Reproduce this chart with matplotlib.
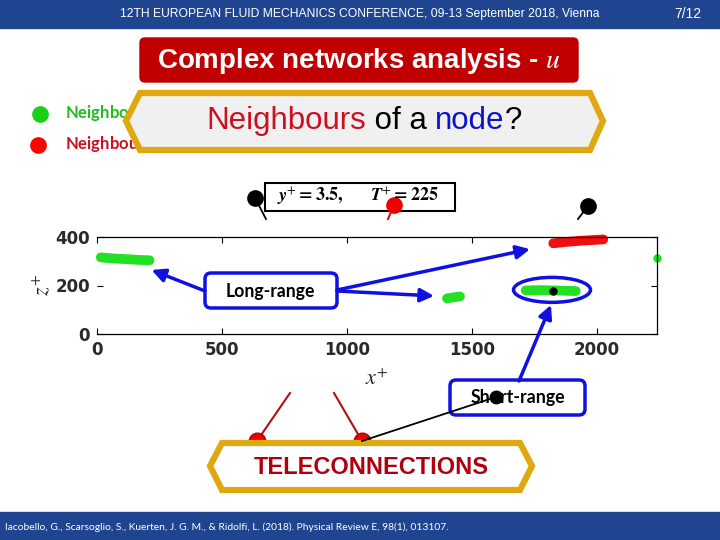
import matplotlib
matplotlib.use("Agg")
import matplotlib.pyplot as plt
from matplotlib.patches import Rectangle, FancyBboxPatch, Polygon, Ellipse, ConnectionPatch
from matplotlib.offsetbox import TextArea, HPacker, AnnotationBbox

plt.rcParams['mathtext.fontset'] = 'stix'

# ---- data -----------------------------------------------------------------
xticks = [0, 500, 1000, 1500, 2000]
yticks = [0, 200, 400]

# positively correlated neighbours (green clusters)
green_x = [[15, 60, 110, 160, 210],
           [1400, 1425, 1452],
           [1715, 1780, 1850, 1915],
           [2240]]
green_y = [[316, 312, 309, 306, 304],
           [147, 151, 155],
           [180, 181, 179, 177],
           [312]]

# negatively correlated neighbours (red cluster)
red_x = [1825, 1880, 1940, 2025]
red_y = [374, 380, 385, 390]

# the node itself
node_x = [1825]
node_y = [178]

# arrow targets (data coords)
long_targets = [(218, 264), (1732, 350), (1348, 157)]
short_target = (1816, 120)

BLUE = '#1010e0'
GOLD = '#e0a810'
BAND = '#1f4591'

fig = plt.figure(figsize=(7.2, 5.4), dpi=100)

# ---- the chart -------------------------------------------------------------
ax = fig.add_axes([97 / 720, 1 - 334 / 540, 560 / 720, 97 / 540], zorder=2)
for xs, ys in zip(green_x, green_y):
    if len(xs) > 1:
        ax.plot(xs, ys, color='#22e022', lw=7, solid_capstyle='round', clip_on=False)
    else:
        ax.plot(xs, ys, 'o', color='#22e022', ms=5, clip_on=False)
ax.plot(red_x, red_y, color='#ee1010', lw=7, solid_capstyle='round', clip_on=False)
ax.plot(node_x, node_y, 'o', color='black', ms=5, zorder=4)
ax.add_patch(Ellipse((1820, 182), 308, 103, fill=False, edgecolor=BLUE, lw=2.5, zorder=5))

ax.set_xlim(0, 2240)
ax.set_ylim(0, 400)
ax.set_xticks(xticks, labels=[str(v) for v in xticks], fontweight='bold')
ax.set_yticks(yticks, labels=[str(v) for v in yticks], fontweight='bold')
ax.tick_params(direction='in', top=True, right=True, length=4, width=0.8,
               labelsize=12, labelcolor='#2a2a2a', pad=5)
ax.spines['left'].set_visible(False)
for s in ['top', 'bottom', 'right']:
    ax.spines[s].set_linewidth(0.9)
ax.set_xlabel(r'$x^{+}$', fontsize=16, color='#262626', labelpad=7)
ax.set_ylabel(r'$z^{+}$', fontsize=16, color='#262626', labelpad=2)

# ---- slide decorations (pixel coordinates) ---------------------------------
ov = fig.add_axes([0, 0, 1, 1], zorder=5)
ov.set_xlim(0, 720)
ov.set_ylim(540, 0)
ov.axis('off')
ov.patch.set_alpha(0)

ov.add_patch(Rectangle((0, 0), 720, 28, color=BAND))
ov.add_patch(Rectangle((0, 512), 720, 28, color=BAND))
ov.text(360, 14, '12TH EUROPEAN FLUID MECHANICS CONFERENCE, 09-13 September 2018, Vienna',
        color='white', fontsize=8.7, ha='center', va='center', family='Liberation Sans')
ov.text(688, 14, '7/12', color='white', fontsize=10, ha='center', va='center',
        family='Liberation Sans')
ov.text(5, 527, 'Iacobello, G., Scarsoglio, S., Kuerten, J. G. M., & Ridolfi, L. (2018). '
        'Physical Review E, 98(1), 013107.', color='white', fontsize=7.4, ha='left',
        va='center', family='Lato')

# title bar
ov.add_patch(FancyBboxPatch((140, 38), 438, 44, boxstyle='round,pad=0,rounding_size=5',
                            color='#c00000'))
ov.text(359, 61, r'Complex networks analysis - $\mathit{u}$', color='white', fontsize=20,
        fontweight='bold', ha='center', va='center', family='Liberation Sans')

# legend of neighbours (mostly hidden by the hexagon)
ov.plot([40], [114], 'o', color='#18d018', ms=11)
ov.plot([38], [145], 'o', color='#ff0000', ms=11)
ov.text(65, 114, r'Neighbours with $C_{ij}$', color='#22bb22', fontsize=12,
        fontweight='bold', va='center', family='Lato')
ov.text(65, 145, r'Neighbours with $C_{ij}$', color='#cc1020', fontsize=12,
        fontweight='bold', va='center', family='Lato')

# hexagon "Neighbours of a node?"
ov.add_patch(Polygon([(126, 121), (140, 93), (590, 93), (603, 121), (590, 150), (140, 150)],
                     closed=True, facecolor='#f0f0f0', edgecolor=GOLD, lw=4.5, zorder=3))
parts = [('Neighbours', '#cc1020'), (' of a ', 'black'), ('node', '#0a14c8'), ('?', 'black')]
areas = [TextArea(t, textprops=dict(color=c, fontsize=22.5, family='Liberation Sans'))
         for t, c in parts]
ov.add_artist(AnnotationBbox(HPacker(children=areas, pad=0, sep=0, align='baseline'),
                             (364, 121), xycoords='data', frameon=False, zorder=4))

# network nodes above the chart
ov.plot([255, 266], [198, 219], color='black', lw=1.3)
ov.plot([588, 578], [206, 219], color='black', lw=1.3)
ov.plot([394, 388], [205, 219], color='#cc1010', lw=1.5)
ov.add_patch(Rectangle((265, 183), 190, 28, facecolor='white', edgecolor='black', lw=1.5))
ov.text(358, 197, r'$\mathbfit{y}^{+}\mathbf{=3.5,}\qquad\mathbfit{T}^{+}\mathbf{=225}$',
        fontsize=13, ha='center', va='center')
ov.plot([255], [198], 'o', color='black', ms=11)
ov.plot([588], [206], 'o', color='black', ms=11)
ov.plot([394], [205], 'o', color='#ee0000', ms=11)

# Long-range box and arrows
ov.add_patch(FancyBboxPatch((205, 273), 132, 35, boxstyle='round,pad=0,rounding_size=6',
                            facecolor='white', edgecolor=BLUE, lw=2.5, zorder=3))
ov.text(270, 292, 'Long-range', fontsize=12.7, fontweight='bold', ha='center',
        va='center', family='Lato', zorder=4)
starts = [(205, 291), (337, 290), (337, 291)]
for (sx, sy), tgt in zip(starts, long_targets):
    fig.add_artist(ConnectionPatch((sx, sy), tgt, coordsA=ov.transData, coordsB=ax.transData,
                                   arrowstyle='-|>', mutation_scale=20, color=BLUE, lw=2.5,
                                   zorder=6))

# Short-range box and arrow
ov.add_patch(FancyBboxPatch((450, 380), 135, 35, boxstyle='round,pad=0,rounding_size=6',
                            facecolor='white', edgecolor=BLUE, lw=2.5, zorder=3))
ov.text(518, 398, 'Short-range', fontsize=12.8, fontweight='bold', ha='center',
        va='center', family='Lato', zorder=4)
fig.add_artist(ConnectionPatch((519, 381), short_target, coordsA=ov.transData,
                               coordsB=ax.transData, arrowstyle='-|>', mutation_scale=20,
                               color=BLUE, lw=2.5, zorder=6))

# teleconnection links
ov.plot([290, 257], [393, 441], color='#b01010', lw=1.5)
ov.plot([334, 362], [393, 441], color='#b01010', lw=1.5)
ov.plot([496, 362], [397, 441], color='black', lw=1.3, zorder=5)
ov.plot([496], [397], 'o', color='black', ms=9, zorder=5)
ov.plot([257, 362], [441, 441], 'o', color='#ee0000', mec='#991010', ms=12, zorder=2)

# hexagon TELECONNECTIONS
ov.add_patch(Polygon([(210, 466), (222, 443), (520, 443), (532, 466), (520, 490), (222, 490)],
                     closed=True, facecolor='white', edgecolor=GOLD, lw=4.5, zorder=3))
ov.text(371, 467, 'TELECONNECTIONS', color='#b00010', fontsize=17, fontweight='bold',
        ha='center', va='center', family='Liberation Sans', zorder=4)

fig.savefig('out.png', dpi=100)
